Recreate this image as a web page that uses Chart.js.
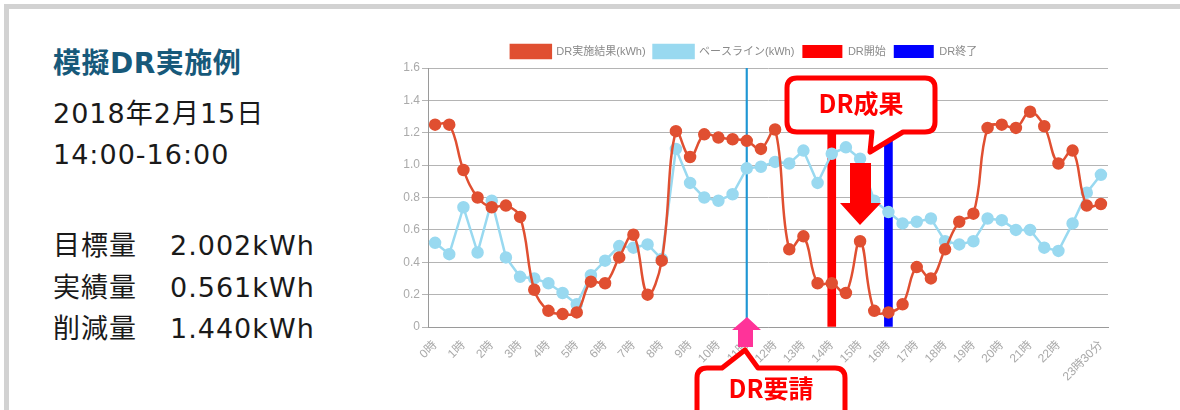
<!DOCTYPE html>
<html lang="ja">
<head>
<meta charset="utf-8">
<title>模擬DR実施例</title>
<script src="https://cdn.jsdelivr.net/npm/chart.js"></script>
<style>
    body {
        margin: 0;
        width: 1180px;
        height: 410px;
        overflow: hidden;
        position: relative;
        background: #fff;
        font-family: "DejaVu Sans", "Noto Sans CJK JP", sans-serif;
        color: #1a1a1a;
    }
    .frame {
        position: absolute;
        left: 4px;
        top: 4px;
        width: 1190px;
        height: 430px;
        border: 5px solid #d2d2d2;
    }
    .line {
        position: absolute;
        left: 53px;
        font-size: 27px;
        letter-spacing: 1px;
        line-height: 30px;
        white-space: nowrap;
    }
    .line .val {
        position: absolute;
        left: 117px;
    }
    .title {
        font-weight: bold;
        color: #17597a;
        font-size: 28px;
        letter-spacing: 0.5px;
    }
    #chartBox {
        position: absolute;
        left: 380px;
        top: 37px;
        width: 740px;
        height: 373px;
    }
    svg.overlay {
        position: absolute;
        left: 0;
        top: 0;
        pointer-events: none;
    }
</style>
</head>
<body>
<div class="frame"></div>

<div class="line title" style="top:49px">模擬DR実施例</div>
<div class="line" style="top:99px">2018年2月15日</div>
<div class="line" style="top:140px">14:00-16:00</div>
<div class="line" style="top:231px">目標量<span class="val">2.002kWh</span></div>
<div class="line" style="top:273px">実績量<span class="val">0.561kWh</span></div>
<div class="line" style="top:314px">削減量<span class="val">1.440kWh</span></div>

<div id="chartBox"><canvas id="drChart"></canvas></div>

<svg class="overlay" width="1180" height="410">
    <!-- DR成果 -->
    <path d="M797,78 H925 Q935,78 935,88 V122 Q935,132 925,132 H903 L870,152 L872,132 H797 Q787,132 787,122 V88 Q787,78 797,78 Z"
          fill="#fff" stroke="#ff0000" stroke-width="5" stroke-linejoin="round"/>
    <text x="861" y="113" text-anchor="middle" font-family="'Noto Sans CJK JP', sans-serif" font-size="25" font-weight="bold" fill="#ff0000">DR成果</text>
    <path d="M850,163 H871 V203 H881 L860,225 L840,203 H850 Z" fill="#ff0000"/>
    <!-- DR要請 -->
    <path d="M747,317 L761,330 H753 V347 H738 V330 H732 Z" fill="#ff3399"/>
    <path d="M707,368 H722 L745,350 L758,368 H835 Q845,368 845,378 V430 H697 V378 Q697,368 707,368 Z"
          fill="#fff" stroke="#ff0000" stroke-width="5" stroke-linejoin="round"/>
    <text x="771" y="398" text-anchor="middle" font-family="'Noto Sans CJK JP', sans-serif" font-size="25" font-weight="bold" fill="#ff0000">DR要請</text>
</svg>

<script>
document.addEventListener('DOMContentLoaded', () => {
    const ctx = document.getElementById('drChart');

    // 30分ごとのラベル (表示は1時間ごと)
    const timeLabels = [
        '0時', '', '1時', '', '2時', '', '3時', '', '4時', '', '5時', '',
        '6時', '', '7時', '', '8時', '', '9時', '', '10時', '', '11時', '',
        '12時', '', '13時', '', '14時', '', '15時', '', '16時', '', '17時', '',
        '18時', '', '19時', '', '20時', '', '21時', '', '22時', '', '', '23時30分'
    ];

    const resultKWh = [
        1.25, 1.25, 0.97, 0.80, 0.74, 0.75, 0.68, 0.23, 0.10, 0.08, 0.09, 0.28,
        0.27, 0.43, 0.57, 0.20, 0.41, 1.21, 1.05, 1.19, 1.17, 1.16, 1.15, 1.10,
        1.22, 0.48, 0.56, 0.27, 0.27, 0.21, 0.53, 0.10, 0.09, 0.14, 0.37, 0.30,
        0.48, 0.65, 0.70, 1.23, 1.25, 1.23, 1.33, 1.24, 1.01, 1.09, 0.75, 0.76
    ];

    const baselineKWh = [
        0.52, 0.45, 0.74, 0.46, 0.78, 0.43, 0.31, 0.30, 0.27, 0.21, 0.14, 0.32,
        0.41, 0.50, 0.49, 0.51, 0.42, 1.10, 0.89, 0.80, 0.78, 0.82, 0.98, 0.99,
        1.02, 1.01, 1.09, 0.89, 1.07, 1.11, 1.04, 0.78, 0.71, 0.64, 0.65, 0.67,
        0.53, 0.51, 0.53, 0.67, 0.66, 0.60, 0.60, 0.49, 0.47, 0.64, 0.83, 0.94
    ];

    // DR要請・開始・終了 (30分枠の位置と棒の高さ)
    const drRequestSlot = 22;
    const drStartSlot = 28;
    const drEndSlot = 32;
    const markerHeights = [1.6, 1.4, 1.4];

    const yMax = 1.6;
    const yStep = 0.2;

    const marker = (slot, h) => timeLabels.map((_, i) => i === slot ? h : null);

    Chart.defaults.font.family = "'Liberation Sans', 'Noto Sans CJK JP', sans-serif";

    new Chart(ctx, {
        data: {
            labels: timeLabels,
            datasets: [{
                type: 'line',
                label: 'DR実施結果(kWh)',
                data: resultKWh,
                borderColor: '#e04f31',
                backgroundColor: '#e04f31',
                borderWidth: 2.5,
                pointRadius: 5,
                tension: 0.4,
                fill: false
            }, {
                type: 'line',
                label: 'ベースライン(kWh)',
                data: baselineKWh,
                borderColor: '#99d9f0',
                backgroundColor: '#99d9f0',
                borderWidth: 2.5,
                pointRadius: 5,
                tension: 0,
                fill: false
            }, {
                type: 'bar',
                label: 'DR開始',
                data: marker(drStartSlot, markerHeights[1]),
                backgroundColor: '#ff0000',
                barThickness: 8,
                grouped: false
            }, {
                type: 'bar',
                label: 'DR終了',
                data: marker(drEndSlot, markerHeights[2]),
                backgroundColor: '#0000ff',
                barThickness: 8,
                grouped: false
            }, {
                type: 'bar',
                label: 'DR要請',
                data: marker(drRequestSlot, markerHeights[0]),
                backgroundColor: '#1e96d4',
                barThickness: 1.5,
                grouped: false
            }]
        },
        options: {
            responsive: true,
            maintainAspectRatio: false,
            animation: false,
            layout: { padding: { right: 12 } },
            plugins: {
                legend: {
                    labels: {
                        boxWidth: 40,
                        boxHeight: 13,
                        padding: 8,
                        color: '#8a8a8a',
                        font: { size: 11 },
                        filter: (item) => item.datasetIndex !== 4
                    }
                },
                tooltip: { enabled: false }
            },
            scales: {
                x: {
                    offset: true,
                    grid: { display: false },
                    border: { color: '#9a9a9a' },
                    ticks: {
                        autoSkip: false,
                        maxRotation: 45,
                        minRotation: 45,
                        color: '#aaaaaa',
                        font: { size: 12 }
                    },
                    afterFit: (scale) => { scale.height = 83; }
                },
                y: {
                    min: 0,
                    max: yMax,
                    grid: { color: '#b4b4b4', tickLength: 6 },
                    border: { color: '#9a9a9a' },
                    ticks: {
                        stepSize: yStep,
                        padding: 2,
                        color: '#aaaaaa',
                        font: { size: 12 },
                        callback: (v) => v === 0 ? '0' : v.toFixed(1)
                    },
                    afterFit: (scale) => { scale.width = 48; }
                }
            }
        }
    });
});
</script>
</body>
</html>
